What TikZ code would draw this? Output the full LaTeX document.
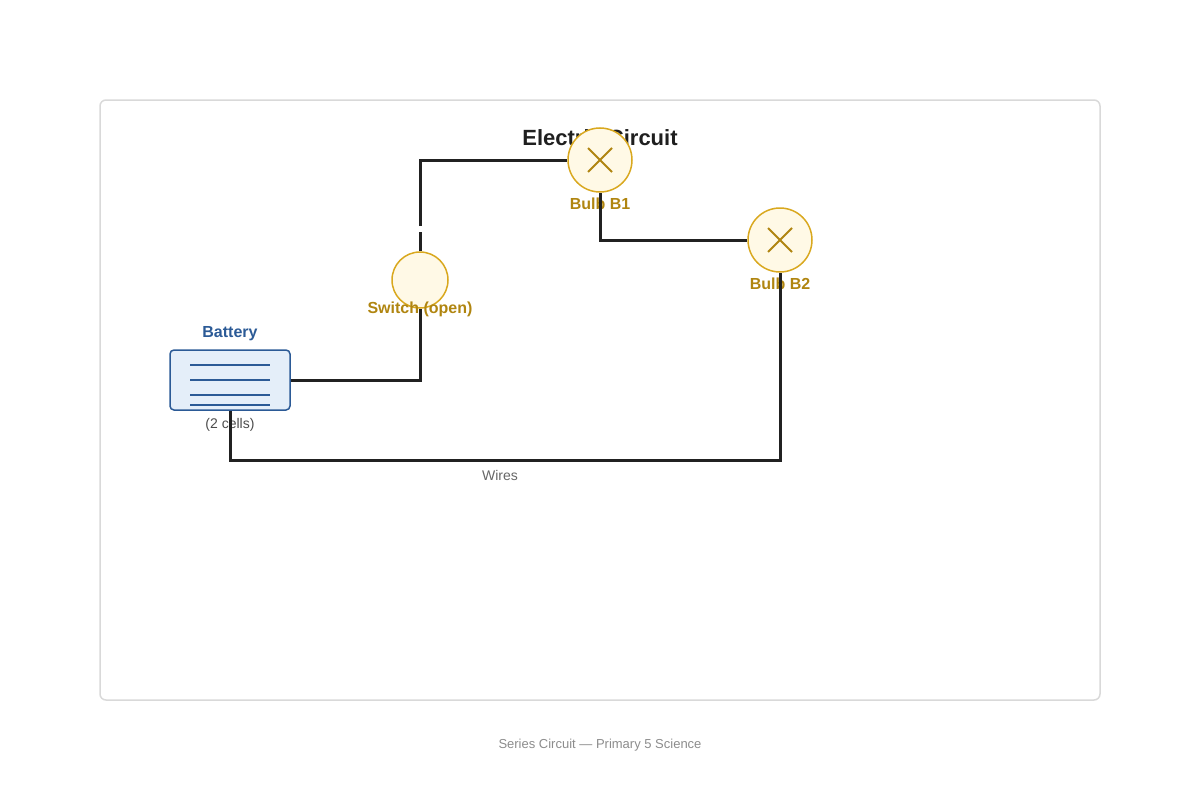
\documentclass[tikz,border=0pt]{standalone}
\usepackage{fontspec}
\setmainfont{Liberation Sans}
\usetikzlibrary{positioning}
\definecolor{bulbfill}{HTML}{FFF9E6}
\definecolor{bulbline}{HTML}{D9A81E}
\definecolor{bulbtext}{HTML}{B08510}
\definecolor{battfill}{HTML}{E4EEF9}
\definecolor{battline}{HTML}{2B5A96}
\tikzset{
  bulb/.style={circle,draw=bulbline,fill=bulbfill,line width=1.5pt,minimum size=64pt,inner sep=0pt},
  lbl/.style={text=bulbtext,font=\fontsize{16}{18}\selectfont\bfseries},
  wire/.style={line width=3pt,draw=black!87},
}
\begin{document}
\begin{tikzpicture}[x=1pt,y=-1pt]
       \useasboundingbox (0,0) rectangle (1200,800);
       \draw[black!15,line width=1.5pt,rounded corners=6pt] (100,100) rectangle (1100,700);
       \node[font=\fontsize{22}{24}\selectfont\bfseries,text=black!88] (title) at (600,138) {Electric Circuit};
       % components
       \node[bulb] (B1) at (600,160) {};
       \node[bulb] (B2) at (780,240) {};
       \node[bulb,minimum size=56pt] (S) at (420,280) {};
       \node[draw=battline,fill=battfill,line width=1.5pt,rounded corners=4pt,minimum width=120pt,minimum height=60pt] (bat) at (230,380) {};
       \foreach \b in {B1,B2}
         \draw[bulbtext,line width=1.8pt] ([shift={(-12,-12)}]\b.center) -- ([shift={(12,12)}]\b.center)
           ([shift={(-12,12)}]\b.center) -- ([shift={(12,-12)}]\b.center);
       \foreach \y in {365,380,395,405}
         \draw[battline,line width=1.8pt] (190,\y) -- (270,\y);
       % labels
       \node[lbl] (lB1) at (600,204) {Bulb B1};
       \node[lbl] (lB2) at (780,284) {Bulb B2};
       \node[lbl] (lS) at (420,309) {Switch (open)};
       \node[text=battline,font=\fontsize{16}{18}\selectfont\bfseries] (lbat) at (230,334) {Battery};
       \node[text=black!70,font=\fontsize{14}{16}\selectfont] (cells) at (230,425) {(2 cells)};
       \node[text=black!60,font=\fontsize{14}{16}\selectfont] (wires) at (500,475) {Wires};
       \node[text=black!45,font=\fontsize{13}{15}\selectfont] (foot) at (600,745) {Series Circuit — Primary 5 Science};
       % wires
       \coordinate (gapT) at (420,226);
       \coordinate (gapB) at (420,232);
       \draw[wire] (bat.east) -| (S.south);
       \draw[wire] (S.north) -- (gapB);
       \draw[wire] (gapT) |- (B1.west);
       \draw[wire] (B1.south) |- (B2.west);
       \draw[wire] (B2.south) |- (230,460) -- (bat.south);
\end{tikzpicture}
\end{document}
